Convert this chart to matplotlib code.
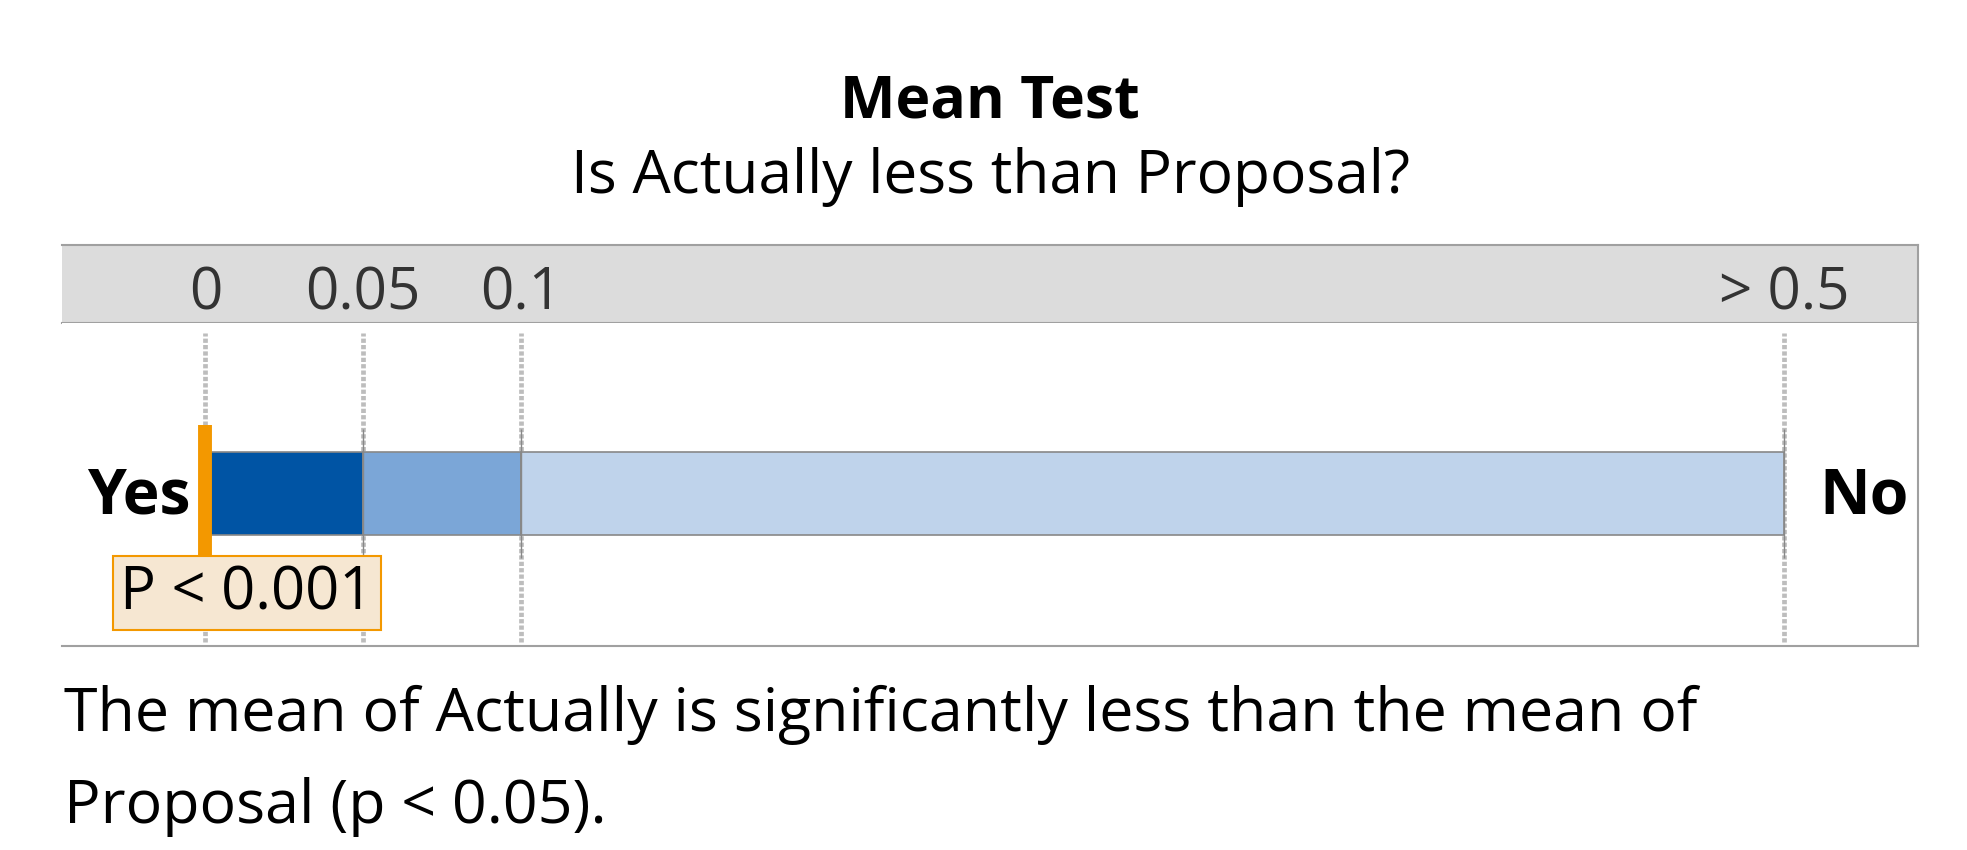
import matplotlib.pyplot as plt

plt.rcParams['font.family'] = ['Open Sans', 'DejaVu Sans']

# chart content
title = "Mean Test"
subtitle = "Is Actually less than Proposal?"
band_edges = [0, 0.05, 0.1, 0.5]
band_colors = ['#0054a4', '#7ba6d7', '#bfd3eb']
tick_values = [0, 0.05, 0.1, 0.5]
tick_labels = ['0', '0.05', '0.1', '> 0.5']
p_value = 0.0
p_label = 'P < 0.001'
left_label = 'Yes'
right_label = 'No'
conclusion = ["The mean of Actually is significantly less than the mean of",
              "Proposal (p < 0.05)."]

W, H = 1967, 850
fig = plt.figure(figsize=(W / 100, H / 100), dpi=100)


def px_box(x0, y0, x1, y1):
    # pixel rectangle (from top-left) -> figure fraction rect
    return [x0 / W, 1 - y1 / H, (x1 - x0) / W, (y1 - y0) / H]


border = '#a0a0a0'
xlim = (-0.0454, 0.5423)

# gray header band holding the scale labels
head = fig.add_axes(px_box(62, 245, 1918, 323))
head.set_facecolor('#dcdcdc')
head.set_xlim(xlim)
head.set_xticks([])
head.set_yticks([])
head.spines['left'].set_visible(False)
for s in ['top', 'bottom', 'right']:
    head.spines[s].set_color(border)
    head.spines[s].set_linewidth(1.5)

ax = fig.add_axes(px_box(62, 323, 1918, 646))
ax.set_zorder(2)
ax.set_xlim(xlim)
ax.set_ylim(0, 1)
ax.set_yticks([])
ax.spines['left'].set_visible(False)
ax.spines['top'].set_visible(False)
for s in ['bottom', 'right']:
    ax.spines[s].set_color(border)
    ax.spines[s].set_linewidth(1.5)

ax.xaxis.tick_top()
ax.set_xticks(tick_values, tick_labels)
ax.tick_params(axis='x', length=0, pad=0, labelsize=42, labelcolor='#333333')

bar_y = 0.472
bar_h = 0.257

# dotted guide lines behind the bar
ax.vlines(tick_values, 0.012, 0.969, color='#bdbdbd', lw=3.4,
          linestyles=(0, (0.9, 0.45)), zorder=0)

widths = [b - a for a, b in zip(band_edges[:-1], band_edges[1:])]
ax.barh(bar_y, widths, left=band_edges[:-1], height=bar_h, color=band_colors,
        edgecolor='#888888', linewidth=1.2, zorder=2)
ax.vlines(tick_values, 0.272, 0.672, color='#888888', lw=1, zorder=3)

# p-value marker
ax.vlines(p_value, 0.257, 0.684, color='#f39800', lw=10, zorder=4)
ax.annotate(p_label, xy=(p_value, 0.164), xytext=(30, 0), textcoords='offset points',
            ha='center', va='center', fontsize=43, zorder=5,
            bbox=dict(boxstyle='square,pad=0.12', fc='#f6e7d2', ec='#f39800', lw=1.5))

ax.annotate(left_label, xy=(band_edges[0], bar_y), xytext=(-11, -14.4),
            textcoords='offset points', ha='right', va='baseline',
            fontsize=45, fontweight='bold')
ax.annotate(right_label, xy=(band_edges[-1], bar_y), xytext=(25, -14.4),
            textcoords='offset points', ha='left', va='baseline',
            fontsize=45, fontweight='bold')

# titles
fig.text(990 / W, 1 - 117 / H, title, ha='center', va='baseline',
         fontsize=42.5, fontweight='bold')
fig.text(990 / W, 1 - 193 / H, subtitle, ha='center', va='baseline', fontsize=43.6)

# conclusion text
fig.text(64 / W, 1 - 731 / H, conclusion[0], ha='left', va='baseline', fontsize=43.8)
fig.text(64 / W, 1 - 823 / H, conclusion[1], ha='left', va='baseline', fontsize=43.8)

fig.savefig('out.png', dpi=100)
